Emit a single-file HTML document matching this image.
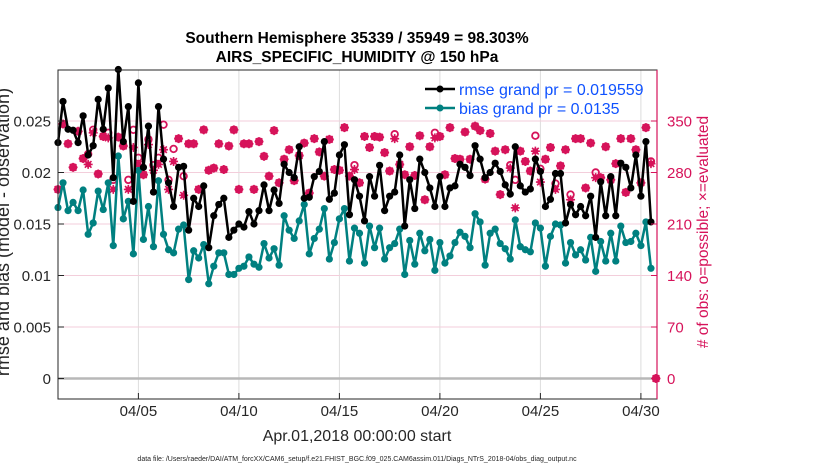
<!DOCTYPE html>
<html><head><meta charset="utf-8"><style>
body{margin:0;background:#fff;width:830px;height:470px;overflow:hidden;font-family:"Liberation Sans",Arial,sans-serif}
svg{display:block}
</style></head><body>
<svg id="chart" width="830" height="470" xmlns="http://www.w3.org/2000/svg">
<g id="grid"></g>
<g id="marks"></g>
<g id="axes"></g>
<text x="357" y="43" text-anchor="middle" font-size="15.5" font-weight="bold">Southern Hemisphere 35339 / 35949 = 98.303%</text>
<text x="357" y="62" text-anchor="middle" font-size="15.5" font-weight="bold">AIRS_SPECIFIC_HUMIDITY @ 150 hPa</text>
<text x="357" y="441" text-anchor="middle" font-size="16" fill="#262626">Apr.01,2018 00:00:00 start</text>
<text x="357" y="461" text-anchor="middle" font-size="7" fill="#262626">data file: /Users/raeder/DAI/ATM_forcXX/CAM6_setup/f.e21.FHIST_BGC.f09_025.CAM6assim.011/Diags_NTrS_2018-04/obs_diag_output.nc</text>
<text transform="translate(9,232) rotate(-90)" text-anchor="middle" font-size="18" fill="#262626">rmse and bias (model - observation)</text>
<text transform="translate(708,232) rotate(-90)" text-anchor="middle" font-size="15.5" fill="#d6135a"># of obs: o=possible; ×=evaluated</text>
<g>
<line x1="425" y1="89" x2="455" y2="89" stroke="#000" stroke-width="2.5"/>
<circle cx="440" cy="89" r="3.5" fill="#000"/>
<text x="459" y="95" font-size="16" fill="#0f52ff">rmse grand pr = 0.019559</text>
<line x1="425" y1="108" x2="455" y2="108" stroke="#008080" stroke-width="2.5"/>
<circle cx="440" cy="108" r="3.5" fill="#008080"/>
<text x="459" y="114" font-size="16" fill="#0f52ff">bias grand pr = 0.0135</text>
</g>
</svg>
<script>
const rmse=[0.0229,0.0269,0.0242,0.0241,0.0229,0.0255,0.0217,0.0226,0.0271,0.0242,0.0282,0.0195,0.0300,0.0230,0.0264,0.0172,0.0287,0.0205,0.0245,0.0181,0.0264,0.0213,0.0190,0.0167,0.0205,0.0206,0.0144,0.0175,0.0167,0.0187,0.0127,0.0158,
0.0169,0.0175,0.0137,0.0144,0.0150,0.0147,0.0162,0.0150,0.0163,0.0188,0.0163,0.0183,0.0170,0.0208,0.0200,0.0195,0.0225,0.0175,0.0176,0.0196,0.0201,0.0230,0.0174,0.0180,0.0217,0.0227,0.0159,0.0193,
0.0177,0.0153,0.0196,0.0177,0.0207,0.0163,0.0177,0.0181,0.0217,0.0148,0.0193,0.0165,0.0213,0.0200,0.0185,0.0167,0.0196,0.0167,0.0185,0.0187,0.0208,0.0205,0.0197,0.0226,0.0213,0.0195,0.0200,0.0209,0.0201,0.0188,0.0179,0.0225,0.0187,0.0181,0.0184,0.0213,0.0201,0.0167,0.0174,0.0199,0.0199,0.0151,0.0169,0.0159,0.0167,0.0158,0.0177,0.0137,0.0191,0.0158,0.0196,0.0158,0.0209,0.0205,0.0185,0.0217,0.0177,0.0230,0.0152];
const bias=[0.0166,0.0190,0.0163,0.0171,0.0163,0.0183,0.0140,0.0151,0.0182,0.0164,0.0190,0.0129,0.0216,0.0155,0.0172,0.0121,0.0202,0.0135,0.0167,0.0128,0.0192,0.0140,0.0125,0.0122,0.0145,0.0149,0.0096,0.0124,0.0117,0.0130,0.0092,0.0109,
0.0122,0.0122,0.0101,0.0101,0.0107,0.0109,0.0118,0.0111,0.0108,0.0131,0.0117,0.0126,0.0110,0.0158,0.0144,0.0136,0.0153,0.0169,0.0121,0.0136,0.0145,0.0165,0.0116,0.0132,0.0155,0.0165,0.0114,0.0146,
0.0141,0.0112,0.0148,0.0127,0.0146,0.0116,0.0127,0.0131,0.0145,0.0101,0.0134,0.0111,0.0141,0.0124,0.0135,0.0105,0.0132,0.0112,0.0119,0.0132,0.0142,0.0138,0.0127,0.0160,0.0152,0.0110,0.0141,0.0145,0.0131,0.0126,0.0116,0.0154,0.0128,0.0125,0.0123,0.0151,0.0146,0.0109,0.0138,0.0150,0.0149,0.0112,0.0132,0.0120,0.0125,0.0115,0.0137,0.0104,0.0133,0.0114,0.0141,0.0114,0.0148,0.0132,0.0133,0.0141,0.0129,0.0152,0.0107];
const nEvaluated=[257,346,319,287,336,299,291,334,278,329,327,257,328,316,257,314,291,277,318,283,291,311,257,295,326,249,319,319,257,338,283,286,
319,284,316,338,257,319,319,257,322,302,275,337,266,298,311,269,303,320,252,326,308,275,325,284,283,341,275,284,
266,329,314,329,328,307,282,326,291,277,315,276,330,243,315,327,329,277,341,299,298,335,298,343,337,271,333,309,250,311,286,232,309,295,282,309,267,298,314,257,289,311,243,326,326,259,320,273,273,315,270,292,326,253,326,311,266,341,292,0];
const nPossible=[257,346,319,287,336,299,305,338,278,329,334,270,328,316,270,338,300,277,325,290,300,345,270,312,326,275,319,319,257,338,283,286,
319,284,316,338,257,319,319,257,322,302,275,337,266,298,311,269,303,320,252,326,308,275,325,284,283,341,275,290,
266,329,314,329,328,307,282,332,291,277,315,276,330,243,315,334,329,277,341,299,298,335,298,343,337,271,333,309,250,311,290,270,309,295,282,330,285,298,314,265,289,311,250,326,326,259,320,280,273,315,270,292,326,253,326,311,266,341,295,0];
const dayTicks=[4,9,14,19,24,29];
const dayLabels=["04/05","04/10","04/15","04/20","04/25","04/30"];
const leftTicks=[0,0.005,0.01,0.015,0.02,0.025];
const leftLabels=["0","0.005","0.01","0.015","0.02","0.025"];
const rightTicks=[0,70,140,210,280,350];
const stepDays=0.25;

const X0=58,X1=657,Y0=70,Y1=399,YZ=378.5;
function xs(d){return X0+d*20.1;}
function yl(v){return YZ-v*10300;}
function yr(n){return YZ-n*51.5/70;}
const NS="http://www.w3.org/2000/svg";
function mk(tag,parent,attrs){const e=document.createElementNS(NS,tag);for(const k in attrs)e.setAttribute(k,attrs[k]);parent.appendChild(e);return e;}
const grid=document.getElementById('grid'),marks=document.getElementById('marks'),axes=document.getElementById('axes');
const RED="#d6135a";
dayTicks.forEach((d,i)=>{
  const g=mk('line',grid,{x1:xs(d),x2:xs(d),y1:Y0,y2:Y1,stroke:"#dcdcdc","stroke-width":1});
  
  
  const t=mk('line',axes,{x1:xs(d),x2:xs(d),y1:Y1,y2:Y1-6,stroke:"#262626","stroke-width":1});
  
  
  const l=mk('text',axes,{x:xs(d),y:416,"text-anchor":"middle","font-size":"15",fill:"#262626"});
  l.textContent=dayLabels[i];
  
  
});
rightTicks.forEach(n=>{
  if(n>0){const g=mk('line',grid,{x1:X0,x2:X1,y1:yr(n),y2:yr(n),stroke:"#f3cedb","stroke-width":1});
  
  }
  const t=mk('line',axes,{x1:X1,x2:X1-6,y1:yr(n),y2:yr(n),stroke:RED});
  
  
  const l=mk('text',axes,{x:667,y:yr(n)+5.5,"font-size":"15",fill:RED});
  l.textContent=String(n);
  
  
});
leftTicks.forEach((v,i)=>{
  const t=mk('line',axes,{x1:X0,x2:X0+6,y1:yl(v),y2:yl(v),stroke:"#262626"});
  
  
  const l=mk('text',axes,{x:51,y:yl(v)+5.5,"text-anchor":"end","font-size":"15",fill:"#262626"});
  l.textContent=leftLabels[i];
  
  
});
const zl=mk('line',grid,{x1:X0,x2:X1,y1:yl(0),y2:yl(0),stroke:"#b8b8b8","stroke-width":2.5});


nPossible.forEach((n,i)=>{
  const c=mk('circle',marks,{cx:xs(i*stepDays),cy:yr(n),r:3.3,fill:"none",stroke:RED,"stroke-width":1.8});
  
  
});
nEvaluated.forEach((n,i)=>{
  const x=xs(i*stepDays),y=yr(n);
  const g=mk('g',marks,{});
  
  
  mk('circle',g,{cx:x,cy:y,r:3,fill:RED});
  mk('path',g,{d:`M${x-4.5} ${y}H${x+4.5}M${x} ${y-4.5}V${y+4.5}M${x-3.3} ${y-3.3}L${x+3.3} ${y+3.3}M${x-3.3} ${y+3.3}L${x+3.3} ${y-3.3}`,stroke:RED,"stroke-width":1.6});
});
function series(arr,color,name){
  let d="";
  arr.forEach((v,i)=>{d+=(i?"L":"M")+xs(i*stepDays).toFixed(1)+" "+yl(v).toFixed(1);});
  const p=mk('path',marks,{d:d,fill:"none",stroke:color,"stroke-width":2.5,"stroke-linejoin":"round"});
  
  
  arr.forEach((v,i)=>{
    const c=mk('circle',marks,{cx:xs(i*stepDays),cy:yl(v),r:3.6,fill:color});
    
    
  });
}
series(bias,"#008080","bias");
series(rmse,"#000000","rmse");
const box=mk('rect',axes,{x:X0,y:Y0,width:X1-X0,height:Y1-Y0,fill:"none",stroke:"#262626","stroke-width":1});


const ra=mk('line',axes,{x1:X1,x2:X1,y1:Y0,y2:Y1,stroke:RED,"stroke-width":1.2});


</script>
</body></html>
